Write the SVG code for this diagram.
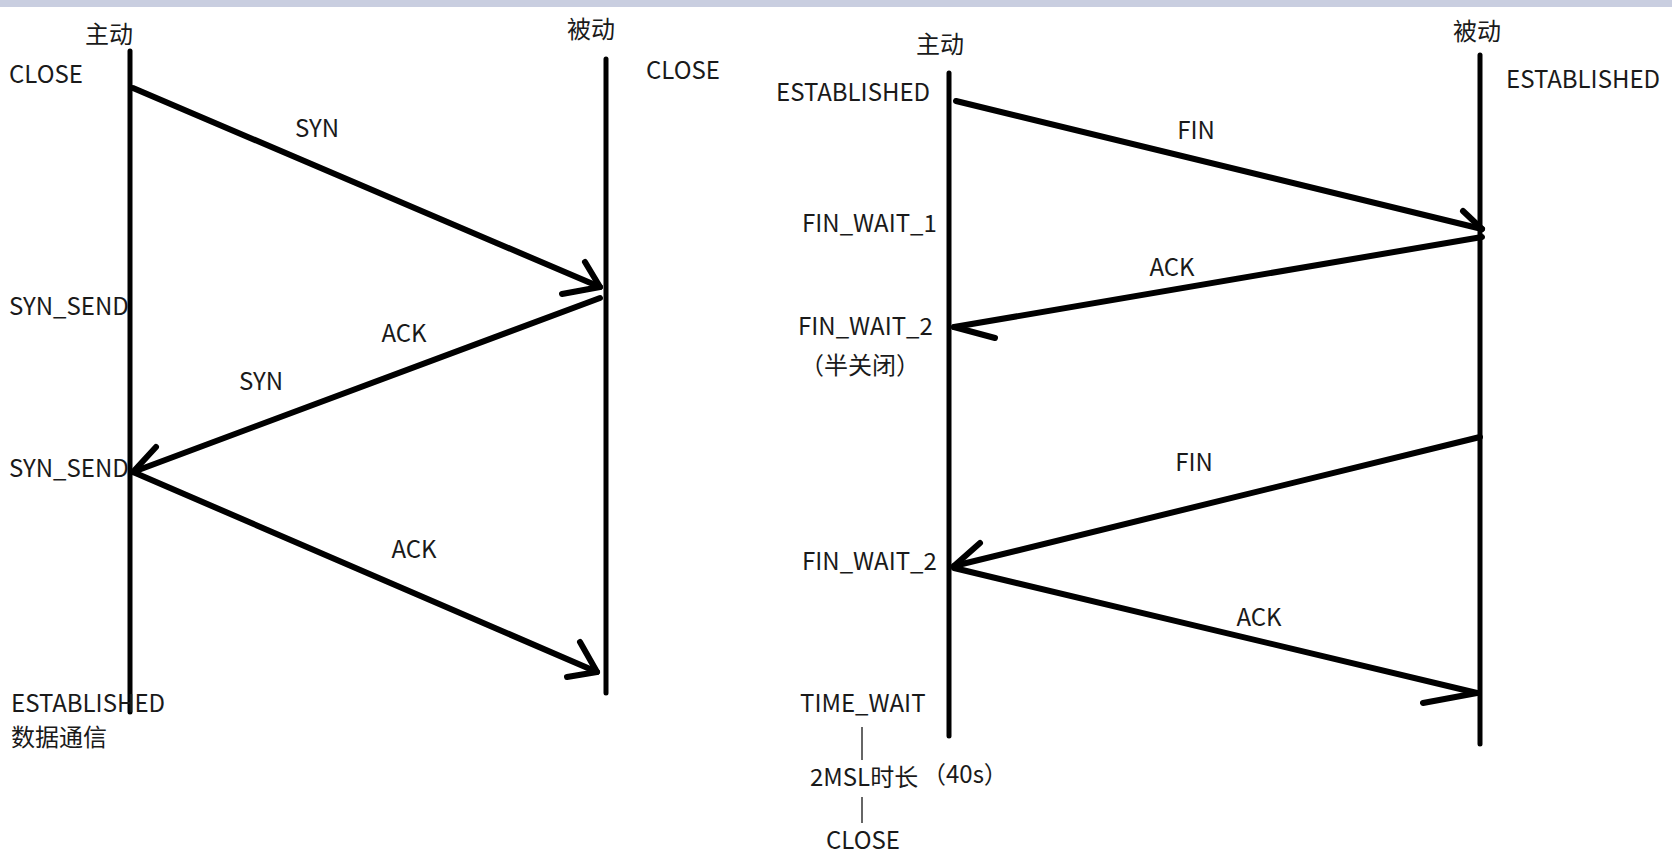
<svg xmlns="http://www.w3.org/2000/svg" width="1672" height="864" viewBox="0 0 1672 864">
<style>
text{font-family:"Noto Sans CJK SC","Liberation Sans",sans-serif;font-size:24px;fill:#1a1a1a}
.m{text-anchor:middle}
.life{stroke:#000;stroke-width:5;stroke-linecap:round}
.msg{stroke:#000;stroke-width:6;stroke-linecap:round;stroke-linejoin:round;fill:none}
.thin{stroke:#333;stroke-width:1.5}
</style>
<rect width="1672" height="864" fill="#fff"/>
<rect width="1672" height="7" fill="#c9cee0"/>
<g id="left-active">
<line class="life" x1="130" y1="51" x2="130" y2="712"/>
<text x="85" y="43">主动</text>
<text x="9" y="83">CLOSE</text>
<text x="9" y="315">SYN_SEND</text>
<text x="9" y="477">SYN_SEND</text>
<text x="11" y="712">ESTABLISHED</text>
<text x="11" y="746">数据通信</text>
</g>
<g id="left-passive">
<line class="life" x1="606" y1="59" x2="606" y2="693"/>
<text x="567" y="38">被动</text>
<text x="646" y="79">CLOSE</text>
</g>
<g id="right-active">
<line class="life" x1="949" y1="73" x2="949" y2="736"/>
<text class="m" x="940" y="53">主动</text>
<text x="776" y="101">ESTABLISHED</text>
<text x="802" y="232">FIN_WAIT_1</text>
<text x="798" y="335">FIN_WAIT_2</text>
<text x="800" y="374">（半关闭）</text>
<text x="802" y="570">FIN_WAIT_2</text>
<text x="800" y="712">TIME_WAIT</text>
<line class="thin" x1="862" y1="727" x2="862" y2="760"/>
<text x="810" y="786">2MSL时长</text>
<text x="922" y="783">（40s）</text>
<line class="thin" x1="862" y1="797" x2="862" y2="823"/>
<text x="826" y="849">CLOSE</text>
</g>
<g id="right-passive">
<line class="life" x1="1480" y1="55" x2="1480" y2="744"/>
<text class="m" x="1477" y="40">被动</text>
<text x="1506" y="88">ESTABLISHED</text>
</g>
<g id="connectors">
<polyline class="msg" points="133,88 600,287"/>
<polyline class="msg" points="585,262 600,287 562,294"/>
<polyline class="msg" points="600,298 133,472"/>
<polyline class="msg" points="156,447 133,472"/>
<polyline class="msg" points="133,472 597,672"/>
<polyline class="msg" points="580,642 597,672 567,677"/>
<polyline class="msg" points="956,101 1482,229"/>
<polyline class="msg" points="1463,211 1482,229"/>
<polyline class="msg" points="1482,237 954,327"/>
<polyline class="msg" points="954,327 995,338"/>
<polyline class="msg" points="1480,437 954,566"/>
<polyline class="msg" points="980,543 954,566"/>
<polyline class="msg" points="954,568 1477,693"/>
<polyline class="msg" points="1423,703 1477,693"/>
<text class="m" x="317" y="137">SYN</text>
<text class="m" x="404" y="342">ACK</text>
<text class="m" x="261" y="390">SYN</text>
<text class="m" x="414" y="558">ACK</text>
<text class="m" x="1196" y="139">FIN</text>
<text class="m" x="1172" y="276">ACK</text>
<text class="m" x="1194" y="471">FIN</text>
<text class="m" x="1259" y="626">ACK</text>
</g>
</svg>
